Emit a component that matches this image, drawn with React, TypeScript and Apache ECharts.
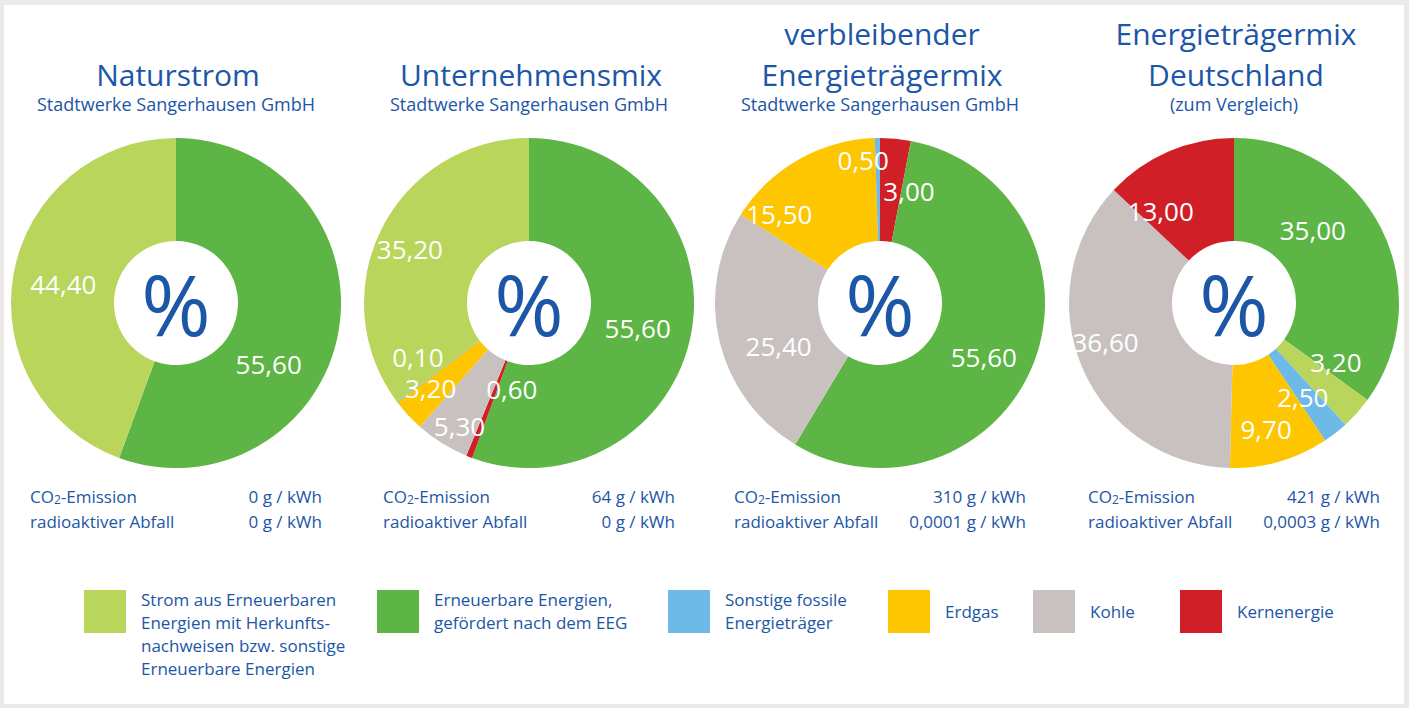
import React, { useEffect, useRef } from "react";
import * as echarts from "echarts";

// ---------- data ----------
const categoryKeys = ["hkn", "eeg", "fossil", "gas", "coal", "nuclear"];
const categoryLabels = [
  "Strom aus Erneuerbaren\nEnergien mit Herkunfts-\nnachweisen bzw. sonstige\nErneuerbare Energien",
  "Erneuerbare Energien,\ngefördert nach dem EEG",
  "Sonstige fossile\nEnergieträger",
  "Erdgas",
  "Kohle",
  "Kernenergie",
];
const categoryColors = ["#bad55b", "#5db545", "#6db9e8", "#fec600", "#c9c1c0", "#d01f26"];

const naturstromKeys = ["eeg", "hkn"];
const naturstromValues = [55.6, 44.4];

const unternehmensKeys = ["eeg", "nuclear", "coal", "gas", "fossil", "hkn"];
const unternehmensValues = [55.6, 0.6, 5.3, 3.2, 0.1, 35.2];

const verbleibendKeys = ["nuclear", "eeg", "coal", "gas", "fossil"];
const verbleibendValues = [3.0, 55.6, 25.4, 15.5, 0.5];

const deutschlandKeys = ["eeg", "hkn", "fossil", "gas", "coal", "nuclear"];
const deutschlandValues = [35.0, 3.2, 2.5, 9.7, 36.6, 13.0];

const titleLines = [
  ["", "Naturstrom"],
  ["", "Unternehmensmix"],
  ["verbleibender", "Energieträgermix"],
  ["Energieträgermix", "Deutschland"],
];
const subtitles = [
  "Stadtwerke Sangerhausen GmbH",
  "Stadtwerke Sangerhausen GmbH",
  "Stadtwerke Sangerhausen GmbH",
  "(zum Vergleich)",
];
const co2Values = ["0 g / kWh", "64 g / kWh", "310 g / kWh", "421 g / kWh"];
const wasteValues = ["0 g / kWh", "0 g / kWh", "0,0001 g / kWh", "0,0003 g / kWh"];

// ---------- layout (not data) ----------
const centersX = [176, 529, 880, 1234];
const centerY = 303;
const labelOffsets = [
  [[-22, 41], [2, 1]],
  [[-6, 5], [25, -23], [-8, 24], [-13, 6], [-18, -16], [-15, -2]],
  [[18, 4], [-5, 12], [12, 16], [-43, 12], [-15, -27]],
  [[-25, -20], [15, -19], [-3, 2], [0, 14], [-21, -6], [-27, 15]],
];
const legendX = [84, 377, 668, 888, 1033, 1180];
const BLUE = "#1c56a7";
const FONT = "'Open Sans', 'Noto Sans', sans-serif";

const pies = [
  [naturstromKeys, naturstromValues],
  [unternehmensKeys, unternehmensValues],
  [verbleibendKeys, verbleibendValues],
  [deutschlandKeys, deutschlandValues],
] as [string[], number[]][];

const fmt = (v: number) => v.toFixed(2).replace(".", ",");

export default function App() {
  const ref = useRef<HTMLDivElement>(null);
  useEffect(() => {
    if (!ref.current) return;
    const chart = echarts.init(ref.current, undefined, { renderer: "svg" });

    const series: any[] = pies.map(([keys, values], ci) => ({
      type: "pie",
      center: [centersX[ci], centerY],
      radius: [62, 165],
      startAngle: 90,
      clockwise: true,
      avoidLabelOverlap: false,
      silent: true,
      itemStyle: { borderWidth: 0 },
      labelLine: { show: false },
      label: {
        show: true,
        position: "inside",
        color: "#ffffff",
        fontFamily: FONT,
        fontSize: 26,
        formatter: (p: any) => fmt(p.value),
      },
      data: keys.map((k, i) => {
        const idx = categoryKeys.indexOf(k);
        return {
          name: categoryLabels[idx],
          value: values[i],
          itemStyle: { color: categoryColors[idx] },
          label: { offset: labelOffsets[ci][i] },
        };
      }),
    }));

    const graphics: any[] = [
      { type: "rect", shape: { x: 4, y: 5, width: 1400, height: 699 }, style: { fill: "#ffffff" }, z: -10 },
    ];
    centersX.forEach((cx, ci) => {
      const [l1, l2] = titleLines[ci];
      if (l1)
        graphics.push({
          type: "text", x: cx + 2, y: 33,
          style: { text: l1, fill: BLUE, font: `30px ${FONT}`, align: "center", verticalAlign: "middle" },
        });
      graphics.push({
        type: "text", x: cx + 2, y: 74,
        style: { text: l2, fill: BLUE, font: `30px ${FONT}`, align: "center", verticalAlign: "middle" },
      });
      graphics.push({
        type: "text", x: cx, y: 104,
        style: { text: subtitles[ci], fill: BLUE, font: `18px ${FONT}`, align: "center", verticalAlign: "middle" },
      });
      graphics.push({
        type: "text", x: cx, y: centerY,
        style: { text: "%", fill: BLUE, font: `84px ${FONT}`, align: "center", verticalAlign: "middle" },
        z: 10,
      });
      const left = cx - 146;
      const right = cx + 146;
      graphics.push({
        type: "text", x: left, y: 496,
        style: {
          text: "{a|CO}{s|2}{a|-Emission}",
          rich: {
            a: { fill: BLUE, fontFamily: FONT, fontSize: 17 },
            s: { fill: BLUE, fontFamily: FONT, fontSize: 12, padding: [6, 0, 0, 0] },
          },
          verticalAlign: "middle",
        },
      });
      graphics.push({
        type: "text", x: right, y: 496,
        style: { text: co2Values[ci], fill: BLUE, font: `17px ${FONT}`, align: "right", verticalAlign: "middle" },
      });
      graphics.push({
        type: "text", x: left, y: 521,
        style: { text: "radioaktiver Abfall", fill: BLUE, font: `17px ${FONT}`, verticalAlign: "middle" },
      });
      graphics.push({
        type: "text", x: right, y: 521,
        style: { text: wasteValues[ci], fill: BLUE, font: `17px ${FONT}`, align: "right", verticalAlign: "middle" },
      });
    });

    categoryLabels.forEach((label, i) => {
      const x = legendX[i];
      graphics.push({
        type: "rect", shape: { x, y: 590, width: 42, height: 43 },
        style: { fill: categoryColors[i] },
      });
      const lines = label.split("\n").length;
      graphics.push({
        type: "text", x: x + 57, y: lines === 1 ? 611 : 588,
        style: {
          text: label, fill: BLUE, font: `17px ${FONT}`, lineHeight: 23,
          verticalAlign: lines === 1 ? "middle" : "top",
        },
      });
    });

    chart.setOption({
      animation: false,
      backgroundColor: "#ece9e6",
      series,
      graphic: graphics,
    });
    return () => chart.dispose();
  }, []);
  return (
    <div
      ref={ref}
      style={{ position: "fixed", left: 0, top: 0, width: 1409, height: 708 }}
    />
  );
}
